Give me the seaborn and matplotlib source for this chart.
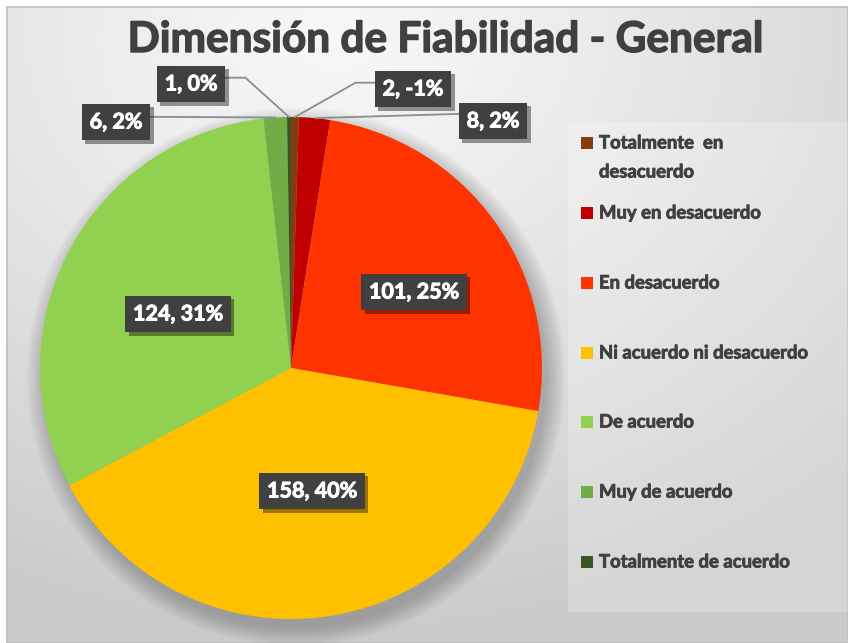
import numpy as np
import matplotlib
matplotlib.use("Agg")
import matplotlib.pyplot as plt
import seaborn as sns
from matplotlib.patches import Rectangle, Circle
from matplotlib import patheffects as pe

# ---------------- data ----------------
categories = ["Totalmente  en\ndesacuerdo", "Muy en desacuerdo", "En desacuerdo",
              "Ni acuerdo ni desacuerdo", "De acuerdo", "Muy de acuerdo",
              "Totalmente de acuerdo"]
counts = [2, 8, 101, 158, 124, 6, 1]
pct_labels = ["-1%", "2%", "25%", "40%", "31%", "2%", "0%"]
colors = ["#843C0C", "#C00000", "#FF3300", "#FFC000", "#92D050", "#70AD47", "#375623"]
title = "Dimensión de Fiabilidad - General"

# ---------------- style ----------------
sns.set_theme(style="white")
plt.rcParams['font.family'] = ['Lato', 'DejaVu Sans']
W, H = 848, 643
fig = plt.figure(figsize=(W / 100, H / 100), dpi=100)

# background (pixel coordinates, origin top-left)
bg = fig.add_axes([0, 0, 1, 1])
bg.set_xlim(0, W)
bg.set_ylim(H, 0)
bg.axis('off')
yy, xx = np.mgrid[0:H, 0:W]
d = np.hypot((xx - 330) / 1.25, yy - 30)
v = 0.97 - 0.175 * np.clip(d / 600, 0, 1) ** 1.2
img = np.dstack([v, v, v])
bg.imshow(img, extent=(7, W, H, 7), aspect='auto', zorder=0, interpolation='bilinear')
bg.add_patch(Rectangle((7, 7), W - 7, H - 7, fill=False, ec='#bdbdbd', lw=1.2, zorder=1))
bg.add_patch(Rectangle((568, 122), W - 568, 490, fc='white', ec='none', alpha=0.22, zorder=1))

# pie axes
cx, cy, r = 291, 368, 251
ax = fig.add_axes([(cx - r) / W, (H - cy - r) / H, 2 * r / W, 2 * r / H])
for k in range(10):
    ax.add_patch(Circle((0.02, -0.035), 1.0 + 0.008 * k, fc='black', ec='none',
                        alpha=0.022, zorder=0, clip_on=False))
wedges, _ = ax.pie(counts, colors=colors, startangle=90, counterclock=False,
                   radius=1, wedgeprops=dict(linewidth=0))
ax.set_xlim(-1, 1)
ax.set_ylim(-1, 1)
ax.axis('off')

# data labels: positions in figure pixels (from top-left)
label_pos = [(413, 89), (493, 121), (414, 292), (312, 491), (178, 314), (116, 122), (191, 84)]
inside = [False, False, True, True, True, False, False]
relpos = [(0, 0.8), (0, 0.85), None, None, None, (1, 0.75), (1, 0.8)]
conn = ["angle,angleA=0,angleB=29.5,rad=0", "arc3,rad=0", None, None, None,
        "arc3,rad=0", "angle,angleA=0,angleB=-42,rad=0"]

for i, w in enumerate(wedges):
    mid = np.deg2rad((w.theta1 + w.theta2) / 2)
    txt = f"{counts[i]}, {pct_labels[i]}"
    px, py = label_pos[i]
    kw = dict(xytext=(px, H - py), textcoords='figure pixels', ha='center', va='center',
              fontsize=15.5, fontweight='bold', color='white', zorder=5,
              bbox=dict(boxstyle='square,pad=0.36', fc='#404040', ec='none'))
    if inside[i]:
        ann = ax.annotate(txt, xy=(0.6 * np.cos(mid), 0.6 * np.sin(mid)), **kw)
    else:
        ann = ax.annotate(txt, xy=(np.cos(mid), np.sin(mid)),
                          arrowprops=dict(arrowstyle='-', color='#8c8c8c', lw=1.3,
                                          relpos=relpos[i], shrinkA=0, shrinkB=0,
                                          connectionstyle=conn[i]),
                          annotation_clip=False, **kw)
    ann.set_path_effects([pe.withStroke(linewidth=0.7, foreground='white')])
    ann.get_bbox_patch().set_path_effects(
        [pe.withSimplePatchShadow(offset=(2.5, -2.5), shadow_rgbFace='black', alpha=0.4)])

# title
t = fig.text(446 / W, 1 - 40 / H, title, ha='center', va='center', fontsize=30.5,
             fontweight='bold', color='#404040')
t.set_path_effects([pe.withStroke(linewidth=1.0, foreground='#404040')])

# legend (drawn from categories/colors)
leg_y = [143, 213, 283, 353, 422, 492, 562]
for lab, col, yc in zip(categories, colors, leg_y):
    bg.add_patch(Rectangle((581, yc - 6), 12, 12, fc=col, ec='none', zorder=3))
    for k, line in enumerate(lab.split("\n")):
        lt = bg.text(599, yc + 29 * k, line, ha='left', va='center', fontsize=13.3,
                     fontweight='bold', color='#404040', zorder=3)
        lt.set_path_effects([pe.withStroke(linewidth=0.6, foreground='#404040')])

fig.savefig("out.png", dpi=100)
